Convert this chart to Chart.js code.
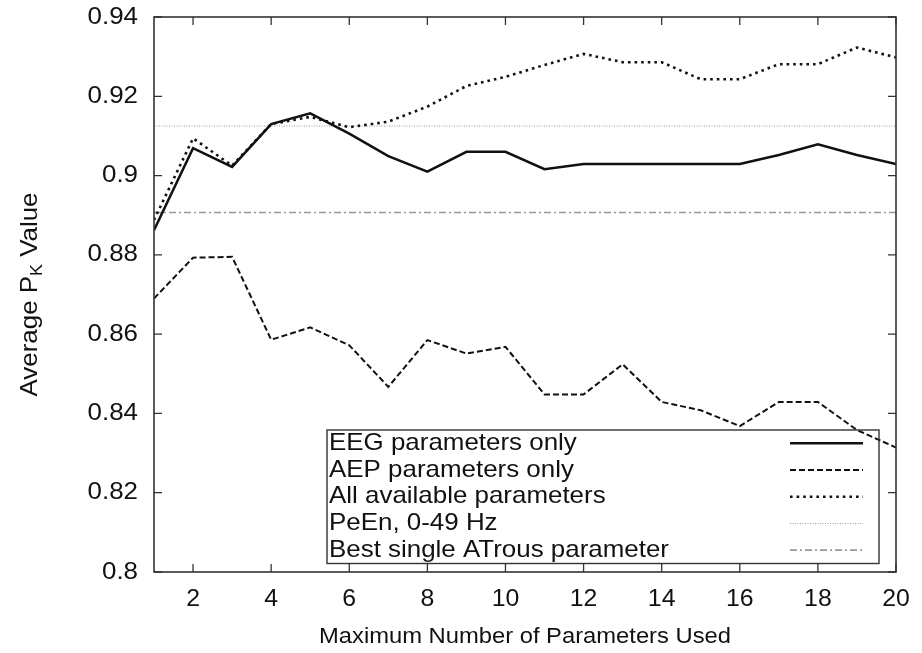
<!DOCTYPE html>
<html>
<head>
<meta charset="utf-8">
<script src="https://cdn.jsdelivr.net/npm/chart.js@4.4.0/dist/chart.umd.min.js"></script>
<style>
  html, body { margin: 0; padding: 0; background: #fff; }
  #wrap { width: 922px; height: 653px; }
</style>
</head>
<body>
<div id="wrap"><canvas id="myChart" width="922" height="653"></canvas></div>
<script>
// values
const xValues = [1, 2, 3, 4, 5, 6, 7, 8, 9, 10, 11, 12, 13, 14, 15, 16, 17, 18, 19, 20];
const eegValues = [0.8862, 0.9069, 0.9022, 0.9130, 0.9157, 0.9106, 0.9049, 0.9010, 0.9060, 0.9060,
                   0.9016, 0.9029, 0.9029, 0.9029, 0.9029, 0.9029, 0.9052, 0.9079, 0.9052, 0.9029];
const aepValues = [0.8690, 0.8793, 0.8795, 0.8586, 0.8617, 0.8572, 0.8467, 0.8585, 0.8551, 0.8568,
                   0.8448, 0.8448, 0.8524, 0.8429, 0.8408, 0.8368, 0.8429, 0.8429, 0.8358, 0.8314];
const allValues = [0.8888, 0.9094, 0.9025, 0.9130, 0.9148, 0.9122, 0.9136, 0.9174, 0.9226, 0.9249,
                   0.9279, 0.9307, 0.9286, 0.9286, 0.9243, 0.9243, 0.9281, 0.9281, 0.9323, 0.9298];
const peenLevel = 0.9125;
const atrousLevel = 0.8907;

const seriesLabels = ['EEG parameters only', 'AEP parameters only', 'All available parameters',
                      'PeEn, 0-49 Hz', 'Best single ATrous parameter'];
const xTicks = [2, 4, 6, 8, 10, 12, 14, 16, 18, 20];
const xTickLabels = ['2', '4', '6', '8', '10', '12', '14', '16', '18', '20'];
const yTicks = [0.8, 0.82, 0.84, 0.86, 0.88, 0.9, 0.92, 0.94];
const yTickLabels = ['0.8', '0.82', '0.84', '0.86', '0.88', '0.9', '0.92', '0.94'];
const xTitle = 'Maximum Number of Parameters Used';

const FONT = '"Liberation Sans", Arial, sans-serif';
const SX = 1.08;   // the reference text is a bit wide
const INK = '#111';

function pts(ys) {
  return ys.map(function (y, i) { return { x: xValues[i], y: y }; });
}
function level(v) {
  return [{ x: xValues[0], y: v }, { x: xValues[xValues.length - 1], y: v }];
}

function wideText(ctx, str, x, y, align, size) {
  ctx.save();
  ctx.font = size + 'px ' + FONT;
  var w = ctx.measureText(str).width * SX;
  var x0 = align === 'right' ? x - w : (align === 'center' ? x - w / 2 : x);
  ctx.translate(x0, y);
  ctx.scale(SX, 1);
  ctx.textAlign = 'left';
  ctx.textBaseline = 'middle';
  ctx.fillStyle = INK;
  ctx.fillText(str, 0, 0);
  ctx.restore();
}

// gnuplot style frame, inward ticks, labels and the boxed key
const frame = {
  id: 'frame',
  afterDraw: function (chart) {
    var ctx = chart.ctx;
    var a = chart.chartArea;
    var xs = chart.scales.x, ys = chart.scales.y;
    var tl = 8;

    ctx.save();
    ctx.strokeStyle = '#333';
    ctx.lineWidth = 1.6;
    ctx.strokeRect(a.left, a.top, a.right - a.left, a.bottom - a.top);

    ctx.lineWidth = 1.3;
    ctx.beginPath();
    xTicks.forEach(function (t) {
      var px = xs.getPixelForValue(t);
      ctx.moveTo(px, a.bottom); ctx.lineTo(px, a.bottom - tl);
      ctx.moveTo(px, a.top); ctx.lineTo(px, a.top + tl);
    });
    yTicks.forEach(function (t) {
      var py = ys.getPixelForValue(t);
      ctx.moveTo(a.left, py); ctx.lineTo(a.left + tl, py);
      ctx.moveTo(a.right, py); ctx.lineTo(a.right - tl, py);
    });
    ctx.stroke();
    ctx.restore();

    xTicks.forEach(function (t, i) {
      wideText(ctx, xTickLabels[i], xs.getPixelForValue(t), a.bottom + 28, 'center', 23);
    });
    yTicks.forEach(function (t, i) {
      wideText(ctx, yTickLabels[i], a.left - 16, ys.getPixelForValue(t), 'right', 24);
    });

    // axis titles
    wideText(ctx, xTitle, (a.left + a.right) / 2, a.bottom + 65, 'center', 22);

    ctx.save();
    ctx.translate(30, (a.top + a.bottom) / 2);
    ctx.rotate(-Math.PI / 2);
    ctx.scale(SX, 1);
    ctx.fillStyle = INK;
    ctx.textBaseline = 'middle';
    ctx.textAlign = 'left';
    ctx.font = '24px ' + FONT;
    var p1 = 'Average P', p3 = ' Value';
    var w1 = ctx.measureText(p1).width, w3 = ctx.measureText(p3).width;
    ctx.font = '16.5px ' + FONT;
    var w2 = ctx.measureText('K').width;
    var x0 = -(w1 + w2 + w3) / 2;
    ctx.font = '24px ' + FONT;
    ctx.fillText(p1, x0, 0);
    ctx.font = '16.5px ' + FONT;
    ctx.fillText('K', x0 + w1, 7);
    ctx.font = '24px ' + FONT;
    ctx.fillText(p3, x0 + w1 + w2, 0);
    ctx.restore();

    // key box
    var box = { left: 327, top: 430, right: 879, bottom: 563.5 };
    ctx.save();
    ctx.strokeStyle = '#333';
    ctx.lineWidth = 1.4;
    ctx.strokeRect(box.left, box.top, box.right - box.left, box.bottom - box.top);
    ctx.restore();
    var rowH = (box.bottom - box.top) / chart.data.datasets.length;
    chart.data.datasets.forEach(function (ds, i) {
      var cy = box.top + rowH * (i + 0.5);
      wideText(ctx, ds.label, box.left + 2, cy, 'left', 24);
      ctx.save();
      ctx.strokeStyle = ds.borderColor;
      ctx.lineWidth = ds.borderWidth;
      ctx.setLineDash(ds.borderDash || []);
      ctx.beginPath();
      ctx.moveTo(790, cy);
      ctx.lineTo(863, cy);
      ctx.stroke();
      ctx.restore();
    });
  }
};

new Chart(document.getElementById('myChart'), {
  type: 'line',
  data: {
    datasets: [
      { label: seriesLabels[0], data: pts(eegValues), borderColor: '#111', borderWidth: 2.5 },
      { label: seriesLabels[1], data: pts(aepValues), borderColor: '#111', borderWidth: 2, borderDash: [6, 3] },
      { label: seriesLabels[2], data: pts(allValues), borderColor: '#111', borderWidth: 2.6, borderDash: [2.6, 4] },
      { label: seriesLabels[3], data: level(peenLevel), borderColor: '#999', borderWidth: 1, borderDash: [1, 1.5] },
      { label: seriesLabels[4], data: level(atrousLevel), borderColor: '#999', borderWidth: 1.6, borderDash: [7, 3, 2, 3] }
    ]
  },
  options: {
    responsive: false,
    animation: false,
    events: [],
    elements: { point: { radius: 0 }, line: { tension: 0, fill: false } },
    layout: { padding: { top: 17, right: 26, left: 0, bottom: 0 } },
    plugins: { legend: { display: false }, tooltip: { enabled: false } },
    scales: {
      x: {
        type: 'linear', min: 1, max: 20,
        grid: { display: false }, border: { display: false },
        ticks: { display: false },
        afterFit: function (s) { s.height = 81; }
      },
      y: {
        type: 'linear', min: 0.8, max: 0.94,
        grid: { display: false }, border: { display: false },
        ticks: { display: false },
        afterFit: function (s) { s.width = 154; }
      }
    }
  },
  plugins: [frame]
});
</script>
</body>
</html>
